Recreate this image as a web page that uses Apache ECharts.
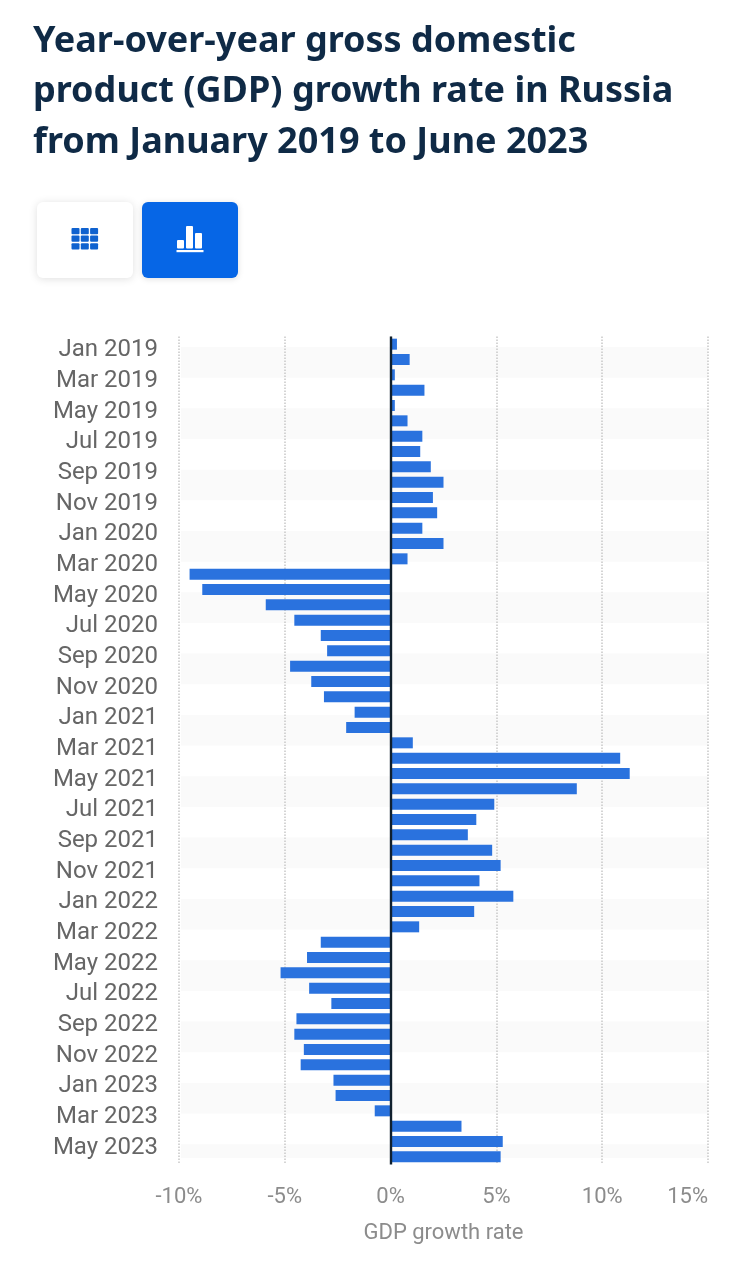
<!DOCTYPE html>
<html>
<head>
<meta charset="utf-8">
<title>Russia GDP growth</title>
<script src="https://cdn.jsdelivr.net/npm/echarts@6/dist/echarts.min.js"></script>
<style>
  html, body { margin: 0; background: #fff; }
  #chart { width: 746px; height: 1280px; }
</style>
</head>
<body>
<div id="chart"></div>
<script>
const titleLines = [
  "Year-over-year gross domestic",
  "product (GDP) growth rate in Russia",
  "from January 2019 to June 2023"
];
const months = [
  "Jan 2019", "Feb 2019", "Mar 2019", "Apr 2019", "May 2019", "Jun 2019",
  "Jul 2019", "Aug 2019", "Sep 2019", "Oct 2019", "Nov 2019", "Dec 2019",
  "Jan 2020", "Feb 2020", "Mar 2020", "Apr 2020", "May 2020", "Jun 2020",
  "Jul 2020", "Aug 2020", "Sep 2020", "Oct 2020", "Nov 2020", "Dec 2020",
  "Jan 2021", "Feb 2021", "Mar 2021", "Apr 2021", "May 2021", "Jun 2021",
  "Jul 2021", "Aug 2021", "Sep 2021", "Oct 2021", "Nov 2021", "Dec 2021",
  "Jan 2022", "Feb 2022", "Mar 2022", "Apr 2022", "May 2022", "Jun 2022",
  "Jul 2022", "Aug 2022", "Sep 2022", "Oct 2022", "Nov 2022", "Dec 2022",
  "Jan 2023", "Feb 2023", "Mar 2023", "Apr 2023", "May 2023", "Jun 2023"
];
const growth = [
  0.3, 0.9, 0.2, 1.6, 0.2, 0.8, 1.5, 1.4, 1.9, 2.5, 2.0, 2.2,
  1.5, 2.5, 0.8, -9.5, -8.9, -5.9, -4.55, -3.3, -3.0, -4.75, -3.75, -3.15,
  -1.7, -2.1, 1.05, 10.85, 11.3, 8.8, 4.9, 4.05, 3.65, 4.8, 5.2, 4.2,
  5.8, 3.95, 1.35, -3.3, -3.95, -5.2, -3.85, -2.8, -4.45, -4.55, -4.1, -4.25,
  -2.7, -2.6, -0.75, 3.35, 5.3, 5.2
];

const ec = echarts.init(document.getElementById("chart"));

// table + bar chart toggle, top left
function buttons() {
  const items = [
    { type: "rect", shape: { x: 37, y: 202, width: 96, height: 76, r: 6 },
      style: { fill: "#fff", shadowBlur: 8, shadowColor: "rgba(0,0,0,0.13)", shadowOffsetY: 1 } },
    { type: "rect", shape: { x: 142, y: 202, width: 96, height: 76, r: 6 },
      style: { fill: "#0666e6", shadowBlur: 6, shadowColor: "rgba(0,0,0,0.13)", shadowOffsetY: 1 } }
  ];
  // grid icon
  [0, 1, 2].forEach(r => [0, 1, 2].forEach(c => {
    items.push({ type: "rect", shape: { x: 71.5 + c * 9.3, y: 228 + r * 7.6, width: 8, height: 6.2, r: 1 },
      style: { fill: "#0f62cf" } });
  }));
  // bars icon
  [[177, 240, 7, 8.5], [186, 226, 7, 22.5], [195, 233, 7, 15.5]].forEach(b => {
    items.push({ type: "rect", shape: { x: b[0], y: b[1], width: b[2], height: b[3], r: 1 },
      style: { fill: "#fff" } });
  });
  items.push({ type: "rect", shape: { x: 176.5, y: 250, width: 27, height: 2.2 }, style: { fill: "#fff" } });
  return items;
}

ec.setOption({
  animation: false,
  backgroundColor: "#fff",
  title: {
    text: titleLines.join("\n"),
    left: 28,
    top: 11,
    textStyle: {
      fontFamily: "Noto Sans",
      fontSize: 36,
      fontWeight: "bold",
      color: "#0f2a46",
      lineHeight: 50.5
    }
  },
  graphic: buttons(),
  grid: [
    // stripes sit half a row off the bars, so they get their own grid
    { left: 181, right: 38, top: 347, height: 811 },
    { left: 179, right: 38, top: 336.5, height: 828 }
  ],
  xAxis: [
    { gridIndex: 0, type: "value", show: false, min: 0, max: 1 },
    {
      gridIndex: 1,
      type: "value",
      min: -10,
      max: 15,
      interval: 5,
      axisLine: { show: false },
      axisTick: { show: false },
      axisLabel: {
        color: "#8c8c8c",
        fontFamily: "Roboto",
        fontSize: 22,
        margin: 22,
        alignMaxLabel: "right",
        formatter: "{value}%"
      },
      splitLine: { show: true, lineStyle: { color: "#c8c8c8", type: "dotted", width: 1.5 } },
      name: "GDP growth rate",
      nameLocation: "middle",
      nameGap: 58,
      nameTextStyle: { color: "#8c8c8c", fontFamily: "Roboto", fontSize: 22 }
    }
  ],
  yAxis: [
    {
      gridIndex: 0,
      type: "value",
      inverse: true,
      min: 0,
      max: 26.45,
      interval: 1,
      axisLine: { show: false },
      axisTick: { show: false },
      axisLabel: { show: false },
      splitLine: { show: false },
      splitArea: { show: true, areaStyle: { color: ["#fafafa", "rgba(255,255,255,0)"] } }
    },
    {
      gridIndex: 1,
      type: "category",
      inverse: true,
      data: months,
      axisLine: { show: false, onZero: false },
      axisTick: { show: false },
      axisLabel: {
        interval: 1,
        color: "#666",
        fontFamily: "Roboto",
        fontSize: 24,
        margin: 21,
        verticalAlign: "top",
        lineHeight: 12
      }
    }
  ],
  series: [
    {
      type: "bar",
      xAxisIndex: 1,
      yAxisIndex: 1,
      data: growth,
      barWidth: 11,
      itemStyle: { color: "#2a72de" },
      markLine: {
        silent: true,
        symbol: "none",
        label: { show: false },
        lineStyle: { color: "#10202e", type: "solid", width: 2.4 },
        data: [{ xAxis: 0 }]
      }
    }
  ]
});
</script>
</body>
</html>
